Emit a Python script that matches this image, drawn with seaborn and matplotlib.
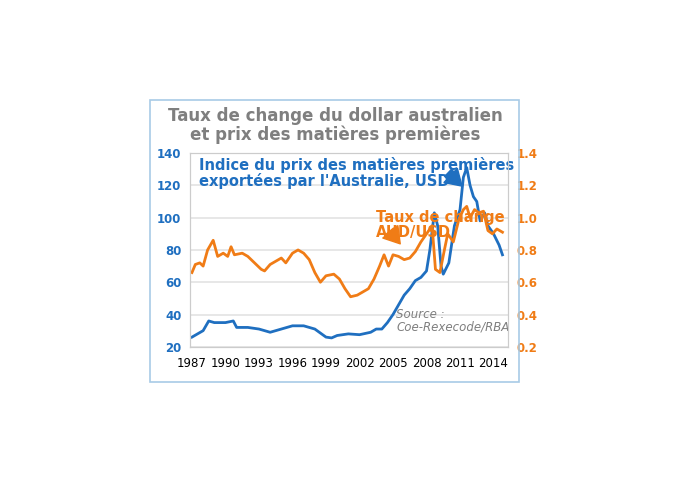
import matplotlib
matplotlib.use("Agg")
import matplotlib.pyplot as plt
import seaborn as sns
import pandas as pd
from matplotlib.patches import Rectangle

commo_years = [1987.0,1987.5,1988.0,1988.5,1989,1990,1990.7,1991,1992,1993,1994,1995,1996,1997,1998,1999,1999.5,2000,2001,2002,2003,2003.5,2004,2004.5,2005,2005.5,2006,2006.5,2007,2007.5,2008,2008.3,2008.7,2009.0,2009.3,2009.5,2010,2010.5,2011.0,2011.3,2011.6,2011.9,2012.2,2012.5,2012.8,2013.2,2013.5,2014,2014.5,2014.8]
commo_vals = [26,28,30,36,35,35,36,32,32,31,29,31,33,33,31,26,25.5,27,28,27.5,29,31,31,35,40,46,52,56,61,63,67,80,103,95,70,65,72,95,105,125,131,120,113,110,98,103,95,90,83,77]
fx_years = [1987.0,1987.3,1987.7,1988,1988.4,1988.9,1989.3,1989.8,1990.2,1990.5,1990.8,1991.5,1992,1992.6,1993.2,1993.5,1994,1995,1995.4,1996,1996.5,1997,1997.5,1998,1998.5,1999,1999.7,2000.2,2000.7,2001.2,2001.8,2002.3,2002.8,2003.3,2003.8,2004.2,2004.6,2005,2005.5,2006,2006.5,2007,2007.5,2008,2008.5,2008.8,2009.2,2009.6,2009.9,2010.4,2010.9,2011.3,2011.6,2011.9,2012.3,2012.7,2013.1,2013.5,2013.9,2014.3,2014.8]
fx_vals = [0.66,0.71,0.72,0.70,0.80,0.86,0.76,0.78,0.76,0.82,0.77,0.78,0.76,0.72,0.68,0.67,0.71,0.75,0.72,0.78,0.80,0.78,0.74,0.66,0.60,0.64,0.65,0.62,0.56,0.51,0.52,0.54,0.56,0.62,0.70,0.77,0.70,0.77,0.76,0.74,0.75,0.79,0.85,0.90,0.95,0.68,0.66,0.80,0.90,0.85,0.99,1.05,1.07,1.00,1.05,1.03,1.04,0.92,0.90,0.93,0.91]
xticks = [1987,1990,1993,1996,1999,2002,2005,2008,2011,2014]

BLUE = "#1f6fc0"; ORANGE = "#f07c16"; GREY = "#7f7f7f"
fig = plt.figure(figsize=(6.95,4.83), dpi=100)
fig.patches.append(Rectangle((0.216,0.209),0.531,0.584, transform=fig.transFigure, fill=False, edgecolor="#a8cbe6", lw=1.2))
ax = fig.add_axes([0.273,0.282,0.458,0.401])
ax2 = ax.twinx()
sns.lineplot(x=commo_years, y=commo_vals, ax=ax, color=BLUE, lw=2)
sns.lineplot(x=fx_years, y=fx_vals, ax=ax2, color=ORANGE, lw=2)
ax.set_ylim(20,140); ax2.set_ylim(0.2,1.4)
ax.set_xlim(1986.8,2015.3)
ax.set_yticks(range(20,141,20)); ax2.set_yticks([0.2,0.4,0.6,0.8,1.0,1.2,1.4])
ax2.set_yticklabels([f"{v:.1f}" for v in ax2.get_yticks()])
ax.set_xticks(xticks)
ax.grid(axis="y", color="#e3e3e3", lw=1.2); ax.set_axisbelow(True)
for a in (ax, ax2):
    for s in a.spines.values(): s.set_color("#cccccc")
    a.tick_params(length=0, labelsize=8.5)
ax.tick_params(axis="y", colors=BLUE, pad=6); ax2.tick_params(axis="y", colors=ORANGE, pad=6)
ax.tick_params(axis="x", colors="black", pad=7)
for t in ax.get_yticklabels() + ax2.get_yticklabels(): t.set_fontweight("bold")
ax.set_xlabel(""); ax.set_ylabel(""); ax2.set_ylabel("")
fig.text(0.482,0.74,"Taux de change du dollar australien\net prix des matières premières", ha="center", va="center", fontsize=12, color=GREY, linespacing=1.0, fontweight="semibold")
ax.text(1987.6,137.5,"Indice du prix des matières premières\nexportées par l'Australie, USD", color=BLUE, fontsize=10.5, va="top", linespacing=1.0, fontweight="semibold")
ax.text(2003.5,105,"Taux de change\nAUD/USD", color=ORANGE, fontsize=10.5, va="top", linespacing=1.0, fontweight="semibold")
ax.annotate("", xy=(464,295), xycoords="figure pixels", xytext=(446,312), textcoords="figure pixels",
            arrowprops=dict(arrowstyle="simple,head_width=1.0,head_length=0.8,tail_width=0.5", color=BLUE, mutation_scale=14))
ax.annotate("", xy=(402,237), xycoords="figure pixels", xytext=(388,254), textcoords="figure pixels",
            arrowprops=dict(arrowstyle="simple,head_width=1.0,head_length=0.8,tail_width=0.5", color=ORANGE, mutation_scale=14))
ax.text(2005.3,36,"Source :\nCoe-Rexecode/RBA", color=GREY, fontsize=8.5, style="italic", va="center", linespacing=1.0)
fig.savefig("out.png", dpi=100, facecolor="white")
